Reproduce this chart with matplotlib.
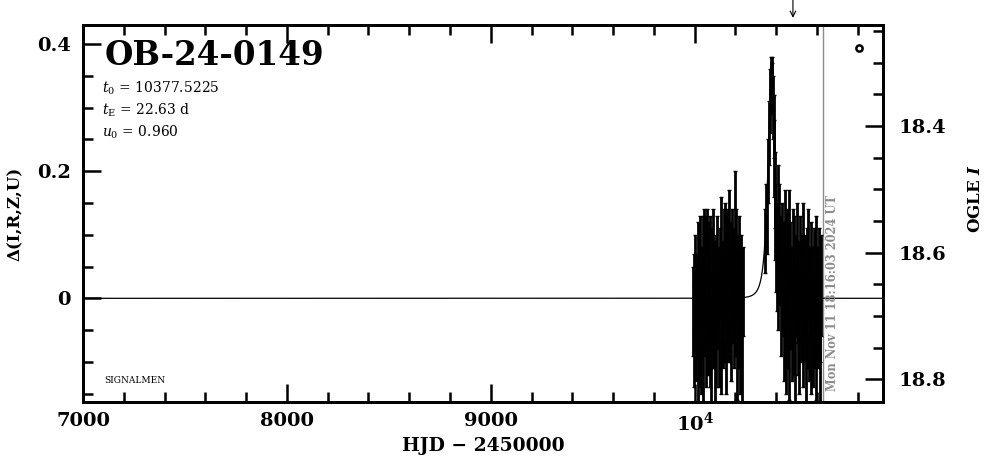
import numpy as np
import matplotlib
matplotlib.use("Agg")
import matplotlib.pyplot as plt
from matplotlib.ticker import MultipleLocator, FixedLocator, FixedFormatter

# ==============================
# DATA
# ==============================
EVENT = "OB-24-0149"
T0 = 10377.5225
TE = 22.63
U0 = 0.960

# season 1 (HJD - 2450000, delta flux, error)
t_s1 = [9992, 9995, 9998, 10002, 10006, 10010, 10014, 10018, 10021, 10025,
        10028, 10032, 10036, 10040, 10043, 10047, 10051, 10055, 10058, 10062,
        10066, 10070, 10073, 10077, 10081, 10085, 10089, 10092, 10096, 10100,
        10104, 10107, 10111, 10115, 10119, 10123, 10127, 10130, 10134, 10138,
        10142, 10146, 10150, 10153, 10157, 10161, 10165, 10169, 10173, 10176,
        10180, 10184, 10188, 10192, 10196, 10199, 10203, 10207, 10211, 10215,
        10219, 10223, 10227, 10231, 10235]
d_s1 = [-0.02, 0.01, -0.06, 0.03, -0.04, -0.01, 0.05, -0.08, 0.02, -0.03,
        0.06, -0.05, 0.00, 0.04, -0.09, 0.07, -0.02, 0.03, -0.06, 0.08,
        -0.03, 0.01, -0.07, 0.05, -0.10, 0.02, -0.04, 0.06, -0.01, -0.08,
        0.03, -0.05, 0.07, 0.00, -0.03, 0.04, -0.06, 0.09, 0.01, -0.04,
        0.05, -0.02, 0.08, -0.07, 0.03, 0.06, -0.03, 0.10, -0.01, 0.04,
        -0.05, 0.07, 0.02, -0.04, 0.12, 0.00, 0.06, -0.06, 0.03, -0.02,
        0.05, -0.08, 0.02, -0.09, 0.01]
e_s1 = [0.07, 0.06, 0.08, 0.07, 0.09, 0.08, 0.07, 0.09, 0.06, 0.11,
        0.07, 0.10, 0.08, 0.09, 0.09, 0.07, 0.07, 0.10, 0.08, 0.06,
        0.09, 0.11, 0.07, 0.08, 0.08, 0.09, 0.07, 0.08, 0.10, 0.10,
        0.07, 0.09, 0.06, 0.08, 0.11, 0.07, 0.09, 0.07, 0.08, 0.07,
        0.09, 0.08, 0.07, 0.08, 0.10, 0.08, 0.07, 0.07, 0.09, 0.08,
        0.08, 0.07, 0.09, 0.07, 0.08, 0.09, 0.08, 0.10, 0.07, 0.09,
        0.08, 0.07, 0.08, 0.10, 0.07]

# season 2, around the peak and after
t_s2 = [10346, 10352, 10357, 10362, 10367, 10371, 10375, 10378, 10381, 10384,
        10387, 10390, 10393, 10396, 10399, 10403, 10407, 10411, 10415, 10419,
        10425, 10429, 10433, 10437, 10441, 10445, 10449, 10453, 10457, 10461,
        10465, 10469, 10473, 10477, 10481, 10485, 10489, 10493, 10497, 10501,
        10505, 10509, 10513, 10517, 10521, 10525, 10529, 10533, 10537, 10541,
        10545, 10549, 10553, 10557, 10561, 10565, 10569, 10573, 10577, 10581,
        10585, 10589, 10593, 10597, 10601, 10605, 10609, 10613, 10617, 10621]
d_s2 = [0.09, 0.13, 0.11, 0.20, 0.26, 0.31, 0.34, 0.35, 0.33, 0.30,
        0.27, 0.22, 0.17, 0.12, 0.08, 0.05, 0.13, 0.02, 0.12, 0.06,
        -0.01, 0.08, 0.03, -0.05, 0.10, 0.02, -0.07, 0.06, -0.02, 0.09,
        -0.09, 0.04, 0.00, -0.05, 0.07, -0.03, 0.05, -0.10, 0.02, 0.06,
        -0.04, 0.01, -0.08, 0.05, -0.01, 0.03, -0.06, 0.07, -0.03, 0.02,
        -0.09, 0.04, -0.02, 0.06, -0.05, 0.01, -0.07, 0.04, -0.01, -0.06,
        0.03, -0.04, 0.05, -0.08, 0.00, -0.03, 0.04, -0.10, -0.02, 0.02]
e_s2 = [0.05, 0.05, 0.04, 0.05, 0.05, 0.05, 0.04, 0.03, 0.04, 0.05,
        0.05, 0.06, 0.06, 0.06, 0.07, 0.07, 0.08, 0.07, 0.06, 0.07,
        0.08, 0.07, 0.09, 0.08, 0.07, 0.08, 0.08, 0.08, 0.09, 0.08,
        0.07, 0.08, 0.08, 0.08, 0.07, 0.09, 0.08, 0.07, 0.08, 0.09,
        0.08, 0.08, 0.07, 0.08, 0.09, 0.07, 0.08, 0.08, 0.07, 0.08,
        0.08, 0.07, 0.09, 0.08, 0.08, 0.07, 0.08, 0.08, 0.09, 0.08,
        0.08, 0.07, 0.08, 0.08, 0.08, 0.08, 0.07, 0.08, 0.08, 0.08]

x_ticks = [7000, 8000, 9000, 10000]
x_labels = ["7000", "8000", "9000", r"$\mathbf{10^4}$"]
y_ticks = [0, 0.2, 0.4]
y_labels = ["0", "0.2", "0.4"]
mag_ticks = [18.4, 18.6, 18.8]
mag_labels = ["18.4", "18.6", "18.8"]

NOW_HJD = 10629
NOW_TEXT = "Mon Nov 11 18:16:03 2024 UT"
ARROW_HJD = 10482
MARK_HJD, MARK_D = 10804, 0.3935

# ==============================
# MODEL (Paczynski, from printed t0, tE, u0)
# ==============================
t_mod = np.linspace(7000, 10925, 4000)
u = np.sqrt(U0 ** 2 + ((t_mod - T0) / TE) ** 2)
amp = (u ** 2 + 2) / (u * np.sqrt(u ** 2 + 4))
d_mod = amp - 1

# ==============================
# PLOT
# ==============================
plt.rcParams["font.family"] = "DejaVu Serif"
plt.rcParams["mathtext.fontset"] = "dejavuserif"

fig = plt.figure(figsize=(9.86, 4.59), dpi=100)
ax = fig.add_axes([0.0842, 0.1242, 0.8116, 0.8213])

ax.plot(t_mod, d_mod, color="k", lw=0.9, zorder=2)
ax.errorbar(t_s1, d_s1, yerr=e_s1, fmt="none", ecolor="k",
            elinewidth=2.0, capsize=1.2, capthick=1.0, zorder=3)
ax.errorbar(t_s2, d_s2, yerr=e_s2, fmt="none", ecolor="k",
            elinewidth=2.0, capsize=1.2, capthick=1.0, zorder=3)

ax.axvline(NOW_HJD, color="#8c8c8c", lw=1.0, zorder=1)
ax.text(NOW_HJD + 48, -0.145, NOW_TEXT, rotation=90, ha="center",
        va="bottom", color="#8c8c8c", fontsize=8.3, fontweight="bold")

ax.plot([MARK_HJD], [MARK_D], marker="o", ms=4.5, mfc="none",
        mec="k", mew=1.8, clip_on=False)

ax.annotate("", xy=(ARROW_HJD, 1.019), xytext=(ARROW_HJD, 1.068),
            xycoords=("data", "axes fraction"),
            textcoords=("data", "axes fraction"),
            arrowprops=dict(arrowstyle="->", lw=0.8, color="k",
                            shrinkA=0, shrinkB=0))

ax.set_xlim(7000, 10925)
ax.set_ylim(-0.163, 0.4297)

ax.xaxis.set_major_locator(FixedLocator(x_ticks))
ax.xaxis.set_major_formatter(FixedFormatter(x_labels))
ax.xaxis.set_minor_locator(MultipleLocator(200))
ax.yaxis.set_major_locator(FixedLocator(y_ticks))
ax.yaxis.set_major_formatter(FixedFormatter(y_labels))
ax.yaxis.set_minor_locator(MultipleLocator(0.05))

ax.tick_params(which="both", direction="in", top=True, right=False,
               width=1.8, labelsize=14)
ax.tick_params(which="major", length=13)
ax.tick_params(which="minor", length=7)
ax.tick_params(axis="y", pad=9)
ax.tick_params(axis="x", pad=7)
for lab in ax.get_xticklabels() + ax.get_yticklabels():
    lab.set_fontweight("bold")
for sp in ax.spines.values():
    sp.set_linewidth(2)

ax2 = ax.twinx()
ax2.set_ylim(18.8358, 18.2405)
ax2.yaxis.set_major_locator(FixedLocator(mag_ticks))
ax2.yaxis.set_major_formatter(FixedFormatter(mag_labels))
ax2.yaxis.set_minor_locator(MultipleLocator(0.05))
ax2.tick_params(which="both", direction="in", width=1.8, labelsize=14, pad=11)
ax2.tick_params(which="major", length=13)
ax2.tick_params(which="minor", length=7)
for lab in ax2.get_yticklabels():
    lab.set_fontweight("bold")
for sp in ax2.spines.values():
    sp.set_linewidth(2)

ax.set_xlabel("HJD − 2450000", fontsize=13.5, fontweight="bold")
ax.xaxis.set_label_coords(0.5, -0.092)
ax.set_ylabel("Δ(I,R,Z,U)", fontsize=12, fontweight="bold")
ax.yaxis.set_label_coords(-0.074, 0.5)
ax2.set_ylabel(r"OGLE $\mathbfit{I}$", fontsize=12, fontweight="bold")
ax2.yaxis.set_label_coords(1.105, 0.54)

ax.text(0.027, 0.92, EVENT, transform=ax.transAxes, fontsize=23.5,
        fontweight="bold", va="center", ha="left")
ax.text(0.024, 0.833, r"$t_0$ = 10377.5225", transform=ax.transAxes,
        fontsize=10, va="center")
ax.text(0.024, 0.775, r"$t_{\rm E}$ = 22.63 d", transform=ax.transAxes,
        fontsize=10, va="center")
ax.text(0.024, 0.716, r"$u_0$ = 0.960", transform=ax.transAxes,
        fontsize=10, va="center")
ax.text(0.026, 0.058, "SIGNALMEN", transform=ax.transAxes,
        fontsize=6.5, va="center")

plt.savefig("out.png", dpi=100)
